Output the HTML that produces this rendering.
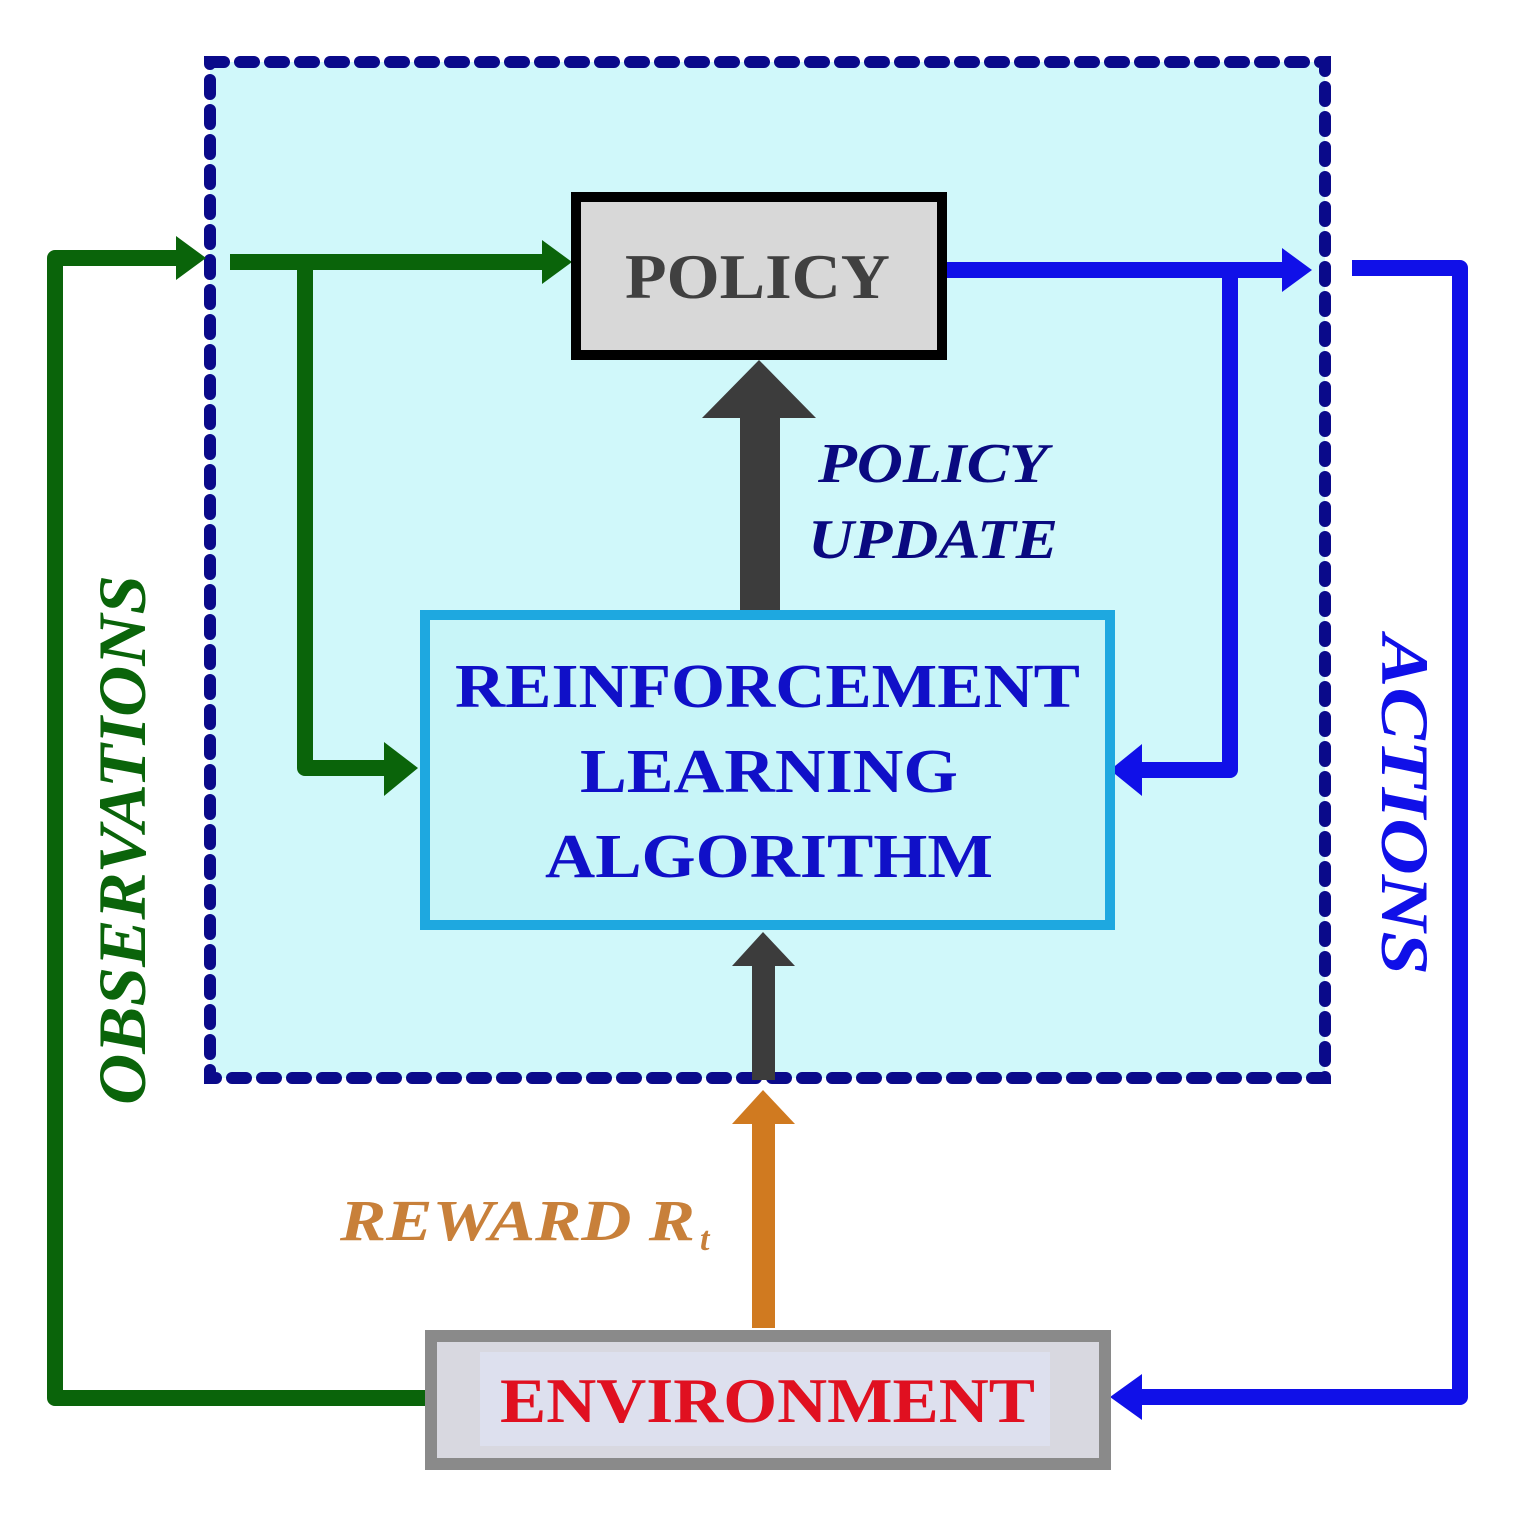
<!DOCTYPE html>
<html><head><meta charset="utf-8"><style>
html,body{margin:0;padding:0;background:#fff;}
svg{display:block;}
text{font-family:"Liberation Serif",serif;font-weight:bold;}
</style></head><body>
<svg width="1517" height="1524" viewBox="0 0 1517 1524" xmlns="http://www.w3.org/2000/svg">
<rect x="0" y="0" width="1517" height="1524" fill="#fff"/>
<rect x="210" y="62" width="1115" height="1016" fill="#d0f8fa" stroke="#0a0a8a" stroke-width="12" stroke-dasharray="14 16" stroke-linecap="round"/>
<g fill="none" stroke="#0a640a" stroke-width="16" stroke-linejoin="round">
<polyline points="435,1398 55,1398 55,258 182,258"/>
<polyline points="230,262 548,262"/>
<polyline points="305,262 305,768 390,768"/>
</g>
<g fill="#0a640a">
<polygon points="176,236 176,280 206,258"/>
<polygon points="542,240 542,284 572,262"/>
<polygon points="384,742 384,796 418,768"/>
</g>
<g fill="none" stroke="#1010e8" stroke-width="16" stroke-linejoin="round">
<polyline points="942,270 1285,270"/>
<polyline points="1230,270 1230,770 1140,770"/>
<polyline points="1352,268 1460,268 1460,1397 1140,1397"/>
</g>
<g fill="#1010e8">
<polygon points="1282,248 1282,292 1312,270"/>
<polygon points="1142,744 1142,796 1110,770"/>
<polygon points="1142,1374 1142,1420 1110,1397"/>
</g>
<rect x="576" y="197" width="366" height="158" fill="#d8d8d8" stroke="#000" stroke-width="10"/>
<text x="625" y="298" font-size="64" fill="#404040" textLength="265" lengthAdjust="spacingAndGlyphs">POLICY</text>
<rect x="740" y="412" width="40" height="200" fill="#3c3c3c"/>
<polygon points="702,418 816,418 759,360" fill="#3c3c3c"/>
<text x="818" y="482" font-size="56" font-style="italic" fill="#0a0a80" textLength="230" lengthAdjust="spacingAndGlyphs">POLICY</text>
<text x="808" y="558" font-size="56" font-style="italic" fill="#0a0a80" textLength="250" lengthAdjust="spacingAndGlyphs">UPDATE</text>
<rect x="425" y="615" width="685" height="310" fill="#c8f5f8" stroke="#1ea8e0" stroke-width="10"/>
<text x="455" y="707" font-size="62" fill="#1010c8" textLength="625" lengthAdjust="spacingAndGlyphs">REINFORCEMENT</text>
<text x="580" y="792" font-size="62" fill="#1010c8" textLength="378" lengthAdjust="spacingAndGlyphs">LEARNING</text>
<text x="545" y="877" font-size="62" fill="#1010c8" textLength="448" lengthAdjust="spacingAndGlyphs">ALGORITHM</text>
<rect x="752" y="962" width="23" height="118" fill="#3c3c3c"/>
<polygon points="732,966 795,966 763,932" fill="#3c3c3c"/>
<rect x="752" y="1118" width="23" height="210" fill="#d07a20"/>
<polygon points="732,1124 795,1124 763,1090" fill="#d07a20"/>
<text x="340" y="1240" font-size="58" font-style="italic" fill="#c8803a" textLength="355" lengthAdjust="spacingAndGlyphs">REWARD R</text>
<text x="700" y="1250" font-size="34" font-style="italic" fill="#c8803a">t</text>
<rect x="431" y="1336" width="674" height="128" fill="#d8d8e0" stroke="#8a8a8a" stroke-width="12"/>
<rect x="480" y="1352" width="570" height="94" fill="#dde0ee"/>
<text x="500" y="1422" font-size="64" fill="#e01020" textLength="535" lengthAdjust="spacingAndGlyphs">ENVIRONMENT</text>
<text transform="translate(145,1105) rotate(-90)" font-size="68" font-style="italic" fill="#0a640a" textLength="530" lengthAdjust="spacingAndGlyphs">OBSERVATIONS</text>
<text transform="translate(1382,635) rotate(90)" font-size="68" font-style="italic" fill="#1010e8" textLength="340" lengthAdjust="spacingAndGlyphs">ACTIONS</text>
</svg>
</body></html>
